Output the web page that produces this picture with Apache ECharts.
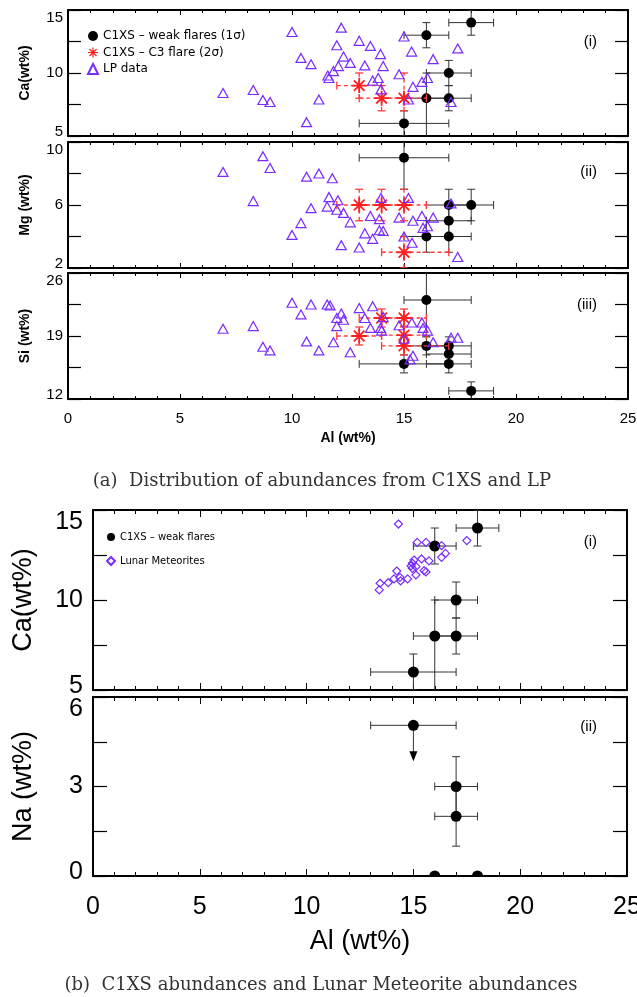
<!DOCTYPE html>
<html><head><meta charset="utf-8">
<script src="https://cdn.jsdelivr.net/npm/echarts@6/dist/echarts.min.js"></script>
<style>html,body{margin:0;padding:0;background:#fff}#c{width:637px;height:997px}</style>
</head><body><div id="c"></div>
<script>
// ---------- DATA ----------
// rows: [Al, value, AlLow, AlHigh, valueLow, valueHigh]
const weakCa = [[18,14,17,19,13,15],[16,13,15,17,12,14],[17,10,16,18,9,11],[17,8,16,18,7,9],[16,8,15,17,4.5,10],[15,6,13,17,5,7]];
const weakMg = [[15,9,13,17,7,11],[17,6,16,18,5,7],[18,6,17,19,5,7],[17,5,16,18,4,6],[16,4,15,17,3,5],[17,4,16,18,3,5]];
const weakSi = [[16,23,15,18,19,27],[16,17.9,15,17,16.9,18.9],[17,17.9,16,18,16.9,18.9],[17,17,16,18,16,18],[17,15.9,16,18,14.9,16.9],[15,15.9,13,17,14.9,16.9],[18,12.9,17,19,11.9,13.9]];
const c3Ca = [[13,9,12,14,8,10],[14,8,13,15,7,9],[15,8,14,16,7,10]];
const c3Mg = [[13,6,12,14,5,7],[14,6,13,15,5,7],[15,6,14,16,5,7],[15,3,14,17,2,4]];
const c3Si = [[13,19,12,14,18,20],[14,21,13,15,20,22],[15,21,14,16,20,22],[15,19.1,14,16,18.1,20.1],[15,17.9,14,17,16.9,18.9]];
const lpCa = [[6.92,8.41],[8.27,8.65],[8.7,7.86],[9.02,7.7],[10.0,13.25],[10.4,11.2],[10.85,10.7],[10.65,6.1],[11.2,7.9],[12.2,13.6],[12.0,12.2],[13.0,12.55],[13.5,12.15],[12.3,11.3],[13.95,11.5],[12.07,10.55],[12.6,10.8],[13.25,10.6],[14.07,10.55],[11.85,10.15],[11.6,9.8],[11.65,9.6],[13.6,9.4],[13.85,9.6],[13.97,8.7],[14.78,9.9],[15.0,12.9],[15.34,11.7],[16.3,11.1],[17.4,11.95],[15.4,8.9],[15.8,9.3],[16.05,9.6],[15.2,7.9],[17.1,7.7]];
const lpMg = [[6.92,8.1],[8.27,6.25],[8.7,9.1],[9.02,8.35],[10.0,4.1],[10.4,4.85],[10.65,7.8],[10.85,5.8],[11.2,8.0],[11.8,7.7],[11.65,6.5],[11.57,5.9],[12.05,6.3],[12.0,5.7],[12.3,5.5],[12.6,4.9],[12.2,3.45],[13.0,3.3],[13.25,4.2],[13.5,5.3],[13.6,3.85],[13.9,4.4],[14.07,4.35],[13.9,5.1],[13.97,6.45],[14.78,5.2],[15.2,6.45],[15.0,4.0],[15.36,3.6],[15.4,5.0],[15.8,5.3],[15.85,4.55],[16.05,4.65],[16.3,5.2],[17.1,6.1],[17.4,2.7]];
const lpSi = [[6.92,19.8],[8.27,20.1],[8.7,17.8],[9.02,17.4],[10.0,22.7],[10.4,21.4],[10.85,22.5],[10.65,18.4],[11.2,17.4],[11.57,22.5],[11.7,22.4],[11.85,18.3],[12.0,21.0],[12.0,20.1],[12.2,21.5],[12.3,20.8],[12.6,17.2],[13.0,22.1],[13.25,21.0],[13.6,22.3],[13.5,19.9],[13.95,19.9],[14.0,19.6],[14.07,21.1],[14.78,20.2],[15.0,18.7],[15.35,20.5],[15.8,20.5],[15.85,19.9],[16.05,19.6],[16.3,18.3],[17.1,18.8],[17.4,18.8],[15.4,16.8],[15.27,16.4]];
// Figure (b)
const weakCaB = [[18,14,17,19,13,15],[16,13,15,17,12,14],[17,10,16,18,9,11],[16,8,15,17,4.5,10],[17,8,16,18,7,9],[15,6,13,17,5,7]];
const meteoriteCa = [[14.3,14.22],[15.18,13.2],[15.59,13.2],[16.32,13.02],[17.5,13.3],[16.5,12.59],[16.32,12.37],[15.38,12.28],[15.73,12.17],[15.03,12.22],[14.95,12.04],[14.89,11.89],[15.12,11.85],[14.95,11.76],[14.22,11.61],[15.5,11.63],[15.59,11.56],[15.12,11.39],[14.73,11.17],[14.37,11.26],[14.4,11.06],[14.09,11.17],[13.82,10.96],[13.44,10.93],[13.4,10.56]];
const weakNa = [[17,3,16,18,2,4],[17,2,16,18,1,3]];
const naUpperLimit = [[15,5.05,13,17,3.85]]; // [Al, Na, AlLow, AlHigh, arrowTip]
const naZero = [[16,0],[18,0]];
const alTicks = {min:0, max:25, step:5};

// ---------- STYLE ----------
const PURPLE = '#7a2cff';
const RED = '#ff1f1f';
const RED_BAR = '#ff3a3a';
const STAR = 'path://M-1.2,-10L1.2,-10L1.2,10L-1.2,10Z M-10,-1.2L10,-1.2L10,1.2L-10,1.2Z M-6.22,-7.92L7.92,6.22L6.22,7.92L-7.92,-6.22Z M-7.92,6.22L6.22,-7.92L7.92,-6.22L-6.22,7.92Z';
const SANS = 'Liberation Sans';

const grids = [
  {left:68, top:10, width:560, height:126},
  {left:68, top:142, width:560, height:126},
  {left:68, top:273, width:560, height:126},
  {left:93, top:510, width:534, height:180},
  {left:93, top:697, width:534, height:179}
].map(g => Object.assign({containLabel:false, outerBoundsMode:'none'}, g));

function xPair(gi, big, showLabel) {
  const base = {
    gridIndex: gi, type:'value', min:alTicks.min, max:alTicks.max, interval:alTicks.step,
    axisLine:{show:true, onZero:false, lineStyle:{color:'#000', width:2}},
    axisTick:{show:true, inside:true, length: big?7:5, lineStyle:{color:'#000', width:1}},
    minorTick:{show:true, splitNumber:5, length: big?4:3, lineStyle:{color:'#000', width:1}},
    splitLine:{show:false}, minorSplitLine:{show:false}
  };
  const bottom = Object.assign({}, base, {position:'bottom',
    axisLabel:{show:showLabel, color:'#000', fontFamily:SANS, fontSize: big?25:15, margin: big?19:12},
    name: showLabel ? 'Al (wt%)' : '', nameLocation:'middle', nameGap: big?52:32, nameMoveOverlap:false,
    nameTextStyle:{color:'#000', fontFamily:SANS, fontSize: big?27:14, fontWeight: big?'normal':'bold'}});
  const top = Object.assign({}, base, {position:'top', axisLabel:{show:false}});
  return [bottom, top];
}
function yPair(gi, min, max, step, name, big) {
  const base = {
    gridIndex: gi, type:'value', min, max, interval:step,
    axisLine:{show:true, onZero:false, lineStyle:{color:'#000', width:2}},
    axisTick:{show:true, inside:true, length: big?14:13, lineStyle:{color:'#000', width:1.2}},
    minorTick:{show:true, splitNumber:2, length: big?14:13, lineStyle:{color:'#000', width:1.2}},
    splitLine:{show:false}, minorSplitLine:{show:false}
  };
  const left = Object.assign({}, base, {position:'left',
    axisLabel:{show:true, color:'#000', fontFamily:SANS, fontSize: big?25:15, margin: big?10:5,
      verticalAlignMaxLabel:'top',
      formatter: v => v === min ? '{lo|' + v + '}' : String(v),
      rich:{lo:{fontFamily:SANS, fontSize: big?25:15, color:'#000', padding:[0,0,8,0]}}},
    name, nameLocation:'middle', nameRotate:90, nameGap: big?56:36, nameMoveOverlap:false,
    nameTextStyle:{color:'#000', fontFamily:SANS, fontSize: big?27:14, fontWeight: big?'normal':'bold'}});
  const right = Object.assign({}, base, {position:'right', axisLabel:{show:false}});
  return [left, right];
}

const xAxis = [].concat(xPair(0,false,false), xPair(1,false,false), xPair(2,false,true), xPair(3,true,false), xPair(4,true,true));
const yAxis = [].concat(
  yPair(0,5,15,5,'Ca(wt%)',false),
  yPair(1,2,10,4,'Mg (wt%)',false),
  yPair(2,12,26,7,'Si (wt%)',false),
  yPair(3,5,15,5,'Ca(wt%)',true),
  yPair(4,0,6,3,'Na (wt%)',true)
);

function errorBars(color, width, dash, cap) {
  return function (params, api) {
    const x = api.value(0), y = api.value(1);
    const L = api.coord([api.value(2), y]), R = api.coord([api.value(3), y]);
    const B = api.coord([x, api.value(4)]), T = api.coord([x, api.value(5)]);
    const bar = {stroke: color, lineWidth: width, lineDash: dash, fill: null};
    const capSt = {stroke: color, lineWidth: width, fill: null};
    const ln = (x1,y1,x2,y2,st) => ({type:'line', shape:{x1,y1,x2,y2}, style: Object.assign({}, st)});
    return {type:'group', children:[
      ln(L[0],L[1],R[0],R[1],bar), ln(L[0],L[1]-cap,L[0],L[1]+cap,capSt), ln(R[0],R[1]-cap,R[0],R[1]+cap,capSt),
      ln(B[0],B[1],T[0],T[1],bar), ln(B[0]-cap,B[1],B[0]+cap,B[1],capSt), ln(T[0]-cap,T[1],T[0]+cap,T[1],capSt)
    ]};
  };
}
function errSeries(data, gi, color, width, dash, cap, z) {
  return {type:'custom', xAxisIndex:2*gi, yAxisIndex:2*gi, data, clip:true, z,
    renderItem: errorBars(color, width, dash, cap), silent:true,
    encode:{x:0, y:1}};
}
function dots(name, data, gi, size) {
  return {type:'scatter', name, xAxisIndex:2*gi, yAxisIndex:2*gi, data, symbol:'circle', symbolSize:size,
    itemStyle:{color:'#000', opacity:1}, z:4, silent:true};
}
function stars(name, data, gi) {
  return {type:'scatter', name, xAxisIndex:2*gi, yAxisIndex:2*gi, data, symbol:STAR, symbolSize:15,
    itemStyle:{color:RED, opacity:1}, z:6, silent:true};
}
function hollow(name, data, gi, symbol, size) {
  return {type:'scatter', name, xAxisIndex:2*gi, yAxisIndex:2*gi, data, symbol, symbolSize:size,
    itemStyle:{color:'rgba(255,255,255,0)', borderColor:PURPLE, borderWidth:1.2, opacity:1}, z:8, silent:true};
}
const WEAK_A = 'C1XS – weak flares (1σ)', C3_A = 'C1XS – C3 flare (2σ)', LP = 'LP data';
const WEAK_B = 'C1XS – weak flares', MET = 'Lunar Meteorites';

const series = [
  errSeries(weakCa,0,'#333',1,null,4,3), dots(WEAK_A,weakCa,0,10),
  errSeries(c3Ca,0,RED_BAR,1.3,[4,3],4,5), stars(C3_A,c3Ca,0), hollow(LP,lpCa,0,'triangle',[10,9]),
  errSeries(weakMg,1,'#333',1,null,4,3), dots(WEAK_A,weakMg,1,10),
  errSeries(c3Mg,1,RED_BAR,1.3,[4,3],4,5), stars(C3_A,c3Mg,1), hollow(LP,lpMg,1,'triangle',[10,9]),
  errSeries(weakSi,2,'#333',1,null,4,3), dots(WEAK_A,weakSi,2,10),
  errSeries(c3Si,2,RED_BAR,1.3,[4,3],4,5), stars(C3_A,c3Si,2), hollow(LP,lpSi,2,'triangle',[10,9]),
  errSeries(weakCaB,3,'#333',1,null,4,3), dots(WEAK_B,weakCaB,3,11), hollow(MET,meteoriteCa,3,'diamond',[8,8]),
  errSeries(weakNa,4,'#333',1,null,4,3), dots('Na weak',weakNa,4,11), dots('Na limit',naUpperLimit,4,11),
  {type:'custom', xAxisIndex:8, yAxisIndex:8, data:naUpperLimit, clip:true, z:3, silent:true, encode:{x:0,y:1},
   renderItem(params, api){
     const y = api.value(1);
     const L = api.coord([api.value(2), y]), R = api.coord([api.value(3), y]);
     const P = api.coord([api.value(0), y]), A = api.coord([api.value(0), api.value(4)]);
     const st = () => ({stroke:'#333', lineWidth:1, fill:null});
     return {type:'group', children:[
       {type:'line', shape:{x1:L[0],y1:L[1],x2:R[0],y2:R[1]}, style:st()},
       {type:'line', shape:{x1:L[0],y1:L[1]-4,x2:L[0],y2:L[1]+4}, style:st()},
       {type:'line', shape:{x1:R[0],y1:R[1]-4,x2:R[0],y2:R[1]+4}, style:st()},
       {type:'line', shape:{x1:P[0],y1:P[1],x2:A[0],y2:A[1]-8}, style:st()},
       {type:'polygon', shape:{points:[[A[0]-4,A[1]-10],[A[0]+4,A[1]-10],[A[0],A[1]]]}, style:{fill:'#000'}}
     ]};
   }},
  {type:'custom', xAxisIndex:8, yAxisIndex:8, data:naZero, clip:true, z:4, silent:true, encode:{x:0,y:1},
   renderItem(params, api){
     const P = api.coord([api.value(0), api.value(1)]);
     return {type:'circle', shape:{cx:P[0], cy:P[1], r:5.5}, style:{fill:'#000'}};
   }}
];

const txt = (text, x, y, size, align, extra) => ({type:'text', x, y, style:Object.assign({text, fontSize:size, fontFamily:SANS, fill:'#000', align:align||'left', verticalAlign:'middle'}, extra||{}), silent:true});

const option = {
  animation:false,
  backgroundColor:'#fff',
  grid: grids,
  xAxis, yAxis, series,
  legend:[
    {data:[WEAK_A, C3_A, LP], orient:'vertical', left:87, top:30, itemWidth:10, itemHeight:10, itemGap:4.5,
     selectedMode:false, textStyle:{fontFamily:'DejaVu Sans', fontSize:12, color:'#000'}, padding:0},
    {data:[WEAK_B, MET], orient:'vertical', left:106, top:532, itemWidth:8, itemHeight:8, itemGap:14,
     selectedMode:false, textStyle:{fontFamily:'DejaVu Sans', fontSize:10, color:'#000'}, padding:0}
  ],
  graphic:[
    txt('(i)', 597, 42, 15, 'right'),
    txt('(ii)', 597, 172, 15, 'right'),
    txt('(iii)', 597, 305, 15, 'right'),
    txt('(i)', 597, 542, 15, 'right'),
    txt('(ii)', 597, 727, 15, 'right'),
    txt('(a)  Distribution of abundances from C1XS and LP', 322, 481, 18, 'center', {fontFamily:'DejaVu Serif', fill:'#333'}),
    txt('(b)  C1XS abundances and Lunar Meteorite abundances', 321, 985, 18, 'center', {fontFamily:'DejaVu Serif', fill:'#333'})
  ]
};
const chart = echarts.init(document.getElementById('c'), null, {renderer:'canvas', width:637, height:997});
chart.setOption(option);
</script></body></html>
